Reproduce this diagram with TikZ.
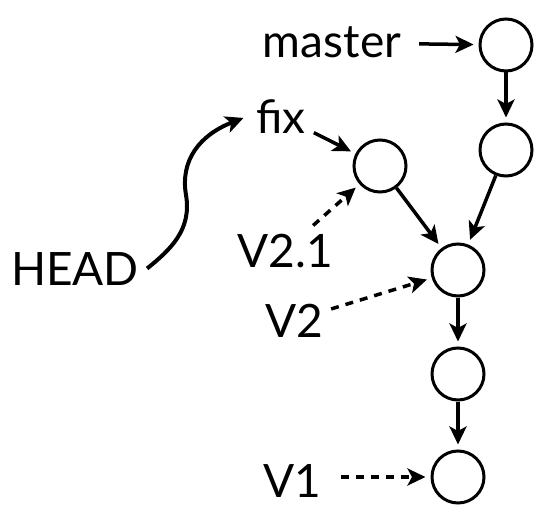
\documentclass[tikz,border=0pt]{standalone}
\usepackage{fontspec}
\setmainfont{Lato}
\usetikzlibrary{arrows.meta}
\begin{document}
\begin{tikzpicture}[x=1pt,y=-1pt,
  commit/.style={circle,draw,line width=3pt,minimum size=52pt,inner sep=0pt},
  lbl/.style={font=\fontsize{46}{50}\selectfont,inner sep=8pt,anchor=base},
  link/.style={line width=3.5pt,-{Stealth[length=18pt,width=17pt,inset=4.5pt]},shorten >=5pt},
  tag/.style={link,dash pattern=on 8pt off 7pt}]
\useasboundingbox (0,0) rectangle (540,508);
% commits
\node[commit] (c1) at (506,45) {};
\node[commit] (c2) at (506,150) {};
\node[commit] (fc) at (380,166) {};
\node[commit] (m)  at (458,270) {};
\node[commit] (c5) at (458,374) {};
\node[commit] (c6) at (458,477) {};
% labels
\node[lbl] (master) at (332,58) {master};
\node[lbl] (fix) at (281,133) {fix};
\node[lbl] (v21) at (285,267) {V2.1};
\node[lbl] (v2) at (294,337) {V2};
\node[lbl] (v1) at (292,497) {V1};
\node[lbl] (head) at (75,285) {HEAD};
% connectors
\draw[link,shorten <=10pt] (master) -- (c1);
\draw[link] (c1) -- (c2);
\draw[link] (fix) -- (fc);
\draw[link] (fc) -- (m);
\draw[link] (c2) -- (m);
\draw[link] (m) -- (c5);
\draw[link] (c5) -- (c6);
\draw[tag] (v21) -- (fc);
\draw[tag] (v2) -- (m);
\draw[tag,shorten <=12pt] (v1.east |- c6) -- (c6);
\draw[link,line width=4pt] (head.east) .. controls (170,250) and (192,230) .. (186,195)
   .. controls (180,160) and (200,135) .. (fix.west);
\end{tikzpicture}
\end{document}
